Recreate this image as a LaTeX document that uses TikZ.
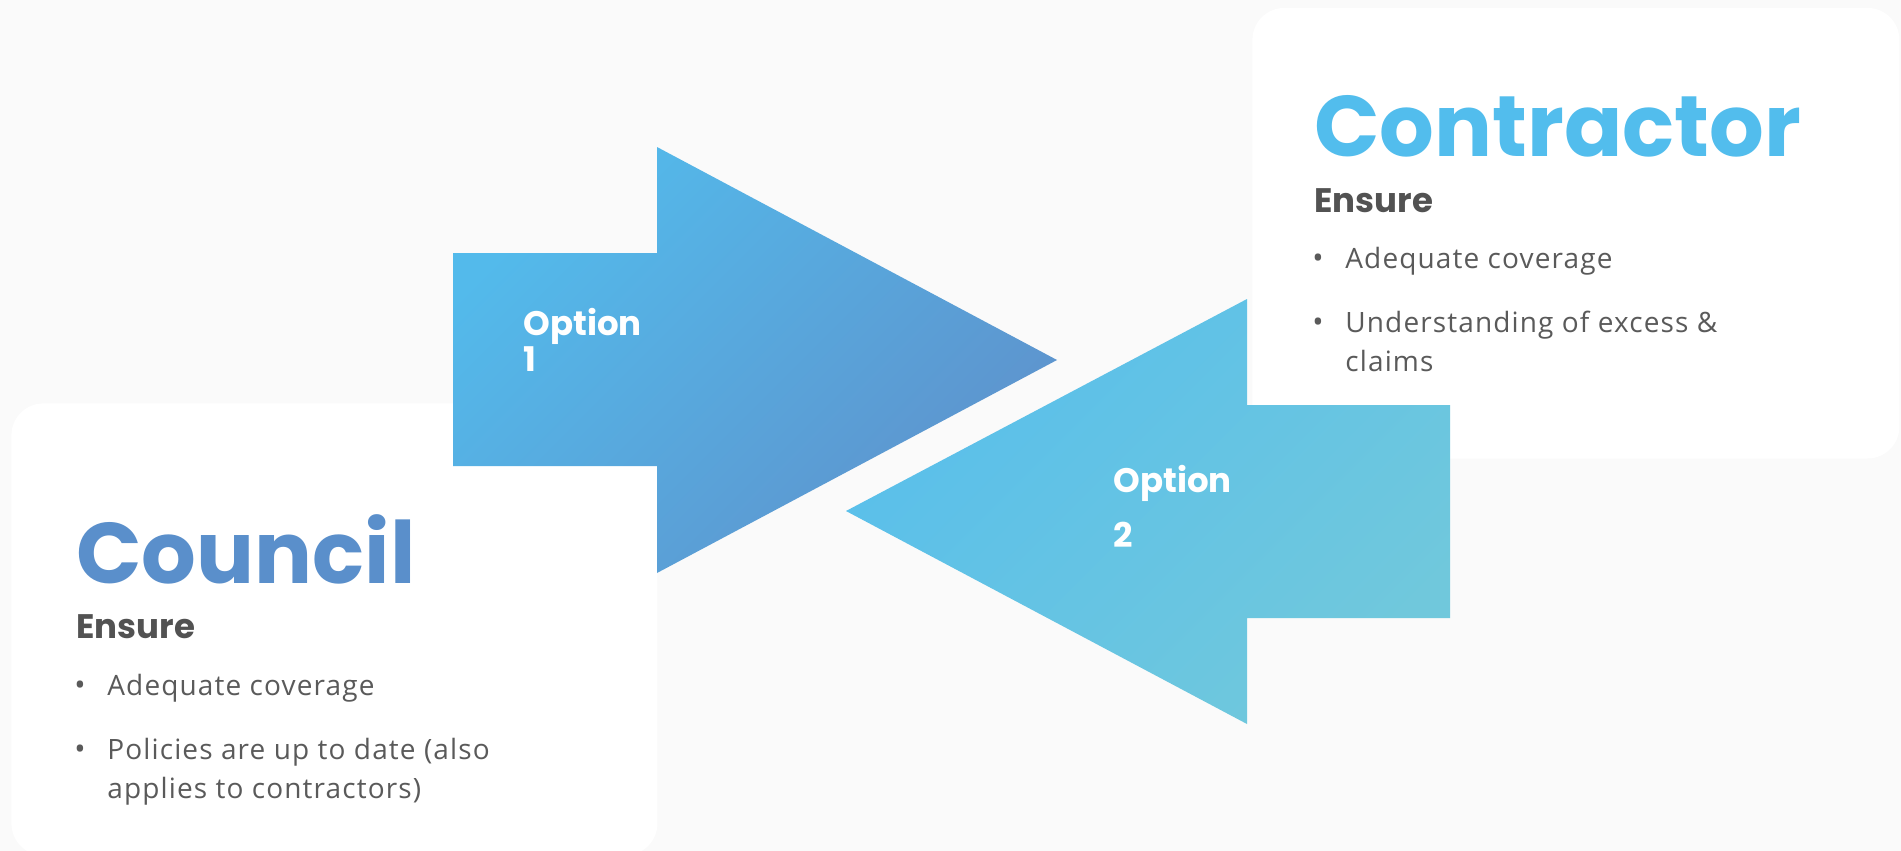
\documentclass[tikz,border=0pt]{standalone}
\usepackage{fontspec}
\usepackage{xcolor}
\usepackage{tikz}
\usetikzlibrary{positioning}

\newfontfamily\headfont{Poppins}
\newfontfamily\bodyfont[LetterSpace=4]{Open Sans}

\definecolor{pagebg}{HTML}{FAFAFA}
\definecolor{councilblue}{HTML}{5A8FCB}
\definecolor{contractorblue}{HTML}{52BDED}
\definecolor{optAtop}{HTML}{53BAEB}
\definecolor{optAbot}{HTML}{5E92CC}
\definecolor{optBtop}{HTML}{59BFEB}
\definecolor{optBbot}{HTML}{70C8DC}
\definecolor{inkgray}{HTML}{5A5A5A}
\definecolor{headgray}{HTML}{525252}

\begin{document}
\begin{tikzpicture}[
    x=0.5pt, y=-0.5pt,
    card/.style={fill=white, rounded corners=16pt, inner sep=0pt, anchor=north west},
    title/.style={anchor=base west, inner sep=0pt, font=\headfont\bfseries\fontsize{43}{48}\selectfont},
    ensure/.style={anchor=base west, inner sep=0pt, text=headgray, font=\headfont\bfseries\fontsize{17}{20}\selectfont},
    item/.style={anchor=base west, inner sep=0pt, text=inkgray, align=left, font=\bodyfont\fontsize{14}{19.5}\selectfont},
    dot/.style={anchor=base west, inner sep=0pt, text=inkgray, font=\bodyfont\fontsize{15}{16}\selectfont},
    optlabel/.style={anchor=base west, inner sep=0pt, text=white, align=left, font=\headfont\bfseries\fontsize{17}{15.3}\selectfont}
]
    % Background
    \fill[pagebg] (0,0) rectangle (1901,851);
    \useasboundingbox (0,0) rectangle (1901,851);

    % Cards
    \node[card, minimum width=323pt, minimum height=226pt] (councilcard) at (11,403) {};
    \node[card, minimum width=323.5pt, minimum height=225.3pt] (contractorcard) at (1252,7.5) {};

    % Option arrows
    \shade[top color=optAtop, bottom color=optAbot, shading angle=45]
        (453,253) -- (657,253) -- (657,147) -- (1057,360) -- (657,573) -- (657,466) -- (453,466) -- cycle;
    \shade[top color=optBtop, bottom color=optBbot, shading angle=45]
        (1450,405) -- (1247,405) -- (1247,299) -- (846,511) -- (1247,724) -- (1247,618) -- (1450,618) -- cycle;

    % (base of a two-line label = its last line)
    \node[optlabel] (opt1) at (523,371) {Option\\1};
    \node[optlabel, font=\headfont\bfseries\fontsize{17}{27.5}\selectfont] (opt2) at (1113,547) {Option\\2};

    % Council
    \node[title, text=councilblue] (council) at (76,583) {Council};
    \node[ensure] (councilensure) at (76,638) {Ensure};
    \node[dot] (cdot1) at (74,695) {•};
    \node[item] (citem1) at (107,695) {Adequate coverage};
    \node[dot] (cdot2) at (74,759) {•};
    \node[item] (citem2) at (107,798) {Policies are up to date (also\\applies to contractors)};

    % Contractor
    \node[title, text=contractorblue] (contractor) at (1314,156) {Contractor};
    \node[ensure] (contractorensure) at (1314,212) {Ensure};
    \node[dot] (kdot1) at (1312,268) {•};
    \node[item] (kitem1) at (1345,268) {Adequate coverage};
    \node[dot] (kdot2) at (1312,332) {•};
    \node[item] (kitem2) at (1345,371) {Understanding of excess \&\\claims};
\end{tikzpicture}
\end{document}
